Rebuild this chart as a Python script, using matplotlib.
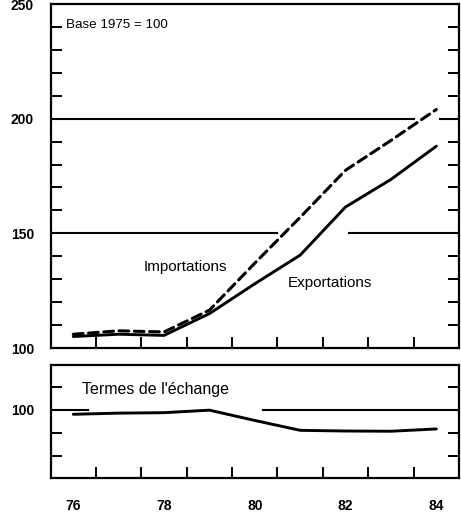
import matplotlib
matplotlib.use("Agg")
import matplotlib.pyplot as plt
from matplotlib.ticker import MultipleLocator, FixedLocator

years = [76, 77, 78, 79, 80, 81, 82, 83, 84]
exportations = [105, 106, 105.5, 115, 128, 140.5, 161.5, 173.5, 188]
importations = [106, 107.5, 107, 116.5, 137, 157, 177.5, 190.5, 204]
termes = [98, 98.5, 98.7, 99.8, 95.3, 91, 90.7, 90.6, 91.6]
year_labels = ["76", "78", "80", "82", "84"]
top_yticks = [100, 150, 200, 250]

plt.rcParams['font.family'] = ['Liberation Sans', 'DejaVu Sans']

fig = plt.figure(figsize=(4.61, 5.14), dpi=100)
W, H = 461, 514
x0, x1 = 50.6, 459
ax1 = fig.add_axes([x0 / W, 1 - 348 / H, (x1 - x0) / W, (348 - 4) / H])
ax2 = fig.add_axes([x0 / W, 1 - 478 / H, (x1 - x0) / W, (478 - 365) / H])

xmin, xmax = 75.5, 84.5
for ax in (ax1, ax2):
    ax.set_xlim(xmin, xmax)
    for s in ax.spines.values():
        s.set_linewidth(1.6)
    ax.xaxis.set_major_locator(FixedLocator([int(v) for v in year_labels]))
    ax.xaxis.set_minor_locator(FixedLocator([y + 0.5 for y in years[:-1]]))
    ax.tick_params(axis='x', which='major', length=0, labelsize=10, pad=15)
    ax.tick_params(axis='x', which='minor', direction='in', length=8, width=1.4)
    ax.tick_params(axis='y', which='both', direction='in', left=True, right=True,
                   length=8, width=1.4, labelsize=10, pad=12)

# Top panel
ax1.set_ylim(100, 250)
ax1.yaxis.set_major_locator(FixedLocator(top_yticks))
ax1.yaxis.set_minor_locator(MultipleLocator(10))
ax1.tick_params(axis='y', which='major', length=0)
ax1.set_yticklabels([str(v) for v in top_yticks], fontweight='bold')
ax1.tick_params(axis='x', which='major', labelbottom=False)

def frac(x):
    return (x - xmin) / (xmax - xmin)

glw = 1.5
ax1.axhline(200, xmin=0, xmax=frac(83.5), color='black', lw=glw)
ax1.axhline(200, xmin=frac(84.08), xmax=1, color='black', lw=glw)
ax1.axhline(150, xmin=0, xmax=frac(80.49), color='black', lw=glw)
ax1.axhline(150, xmin=frac(82.07), xmax=1, color='black', lw=glw)

ax1.plot(years, importations, color='black', lw=2.2, linestyle=(0, (3.2, 1.8)),
         solid_capstyle='round', dash_capstyle='round')
ax1.plot(years, exportations, color='black', lw=2.1, solid_capstyle='round')

ax1.text(75.83, 241, "Base 1975 = 100", fontsize=9.6, va='center', ha='left')
ax1.text(78.46, 135.3, "Importations", fontsize=11, va='center', ha='center')
ax1.text(81.65, 128.3, "Exportations", fontsize=11, va='center', ha='center')

# Bottom panel
ax2.set_ylim(70.2, 119.5)
ax2.yaxis.set_major_locator(FixedLocator([100]))
ax2.yaxis.set_minor_locator(FixedLocator([80, 90, 110]))
ax2.tick_params(axis='y', which='major', length=0)
ax2.set_yticklabels(["100"], fontweight='bold')
ax2.set_xticklabels(year_labels, fontweight='bold')

ax2.axhline(100, xmin=0, xmax=frac(76.32), color='black', lw=glw)
ax2.axhline(100, xmin=frac(80.18), xmax=1, color='black', lw=glw)
ax2.plot(years, termes, color='black', lw=2.1, solid_capstyle='round')
ax2.text(76.19, 108.6, "Termes de l'échange", fontsize=11.5, va='center', ha='left')

fig.savefig("out.png", dpi=100)
